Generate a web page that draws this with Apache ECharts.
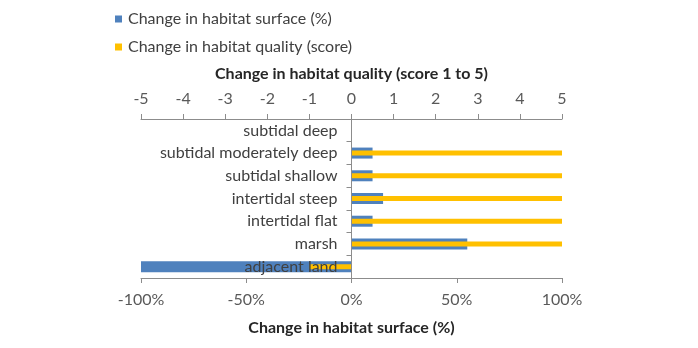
<!DOCTYPE html>
<html>
<head>
<meta charset="utf-8">
<script src="https://cdn.jsdelivr.net/npm/echarts@6/dist/echarts.min.js"></script>
<style>
  html, body { margin: 0; padding: 0; background: #fff; }
  #chart { width: 698px; height: 348px; }
</style>
</head>
<body>
<div id="chart"></div>
<script>
// Habitat types, bottom to top
const habitats = ['adjacent land', 'marsh', 'intertidal flat', 'intertidal steep',
                  'subtidal shallow', 'subtidal moderately deep', 'subtidal deep'];
// Change in habitat surface (%)
const surfaceChange = [-100, 55, 10, 15, 10, 10, 0];
// Change in habitat quality (score)
const qualityChange = [-1, 5, 5, 5, 5, 5, 0];

const surfaceName = 'Change in habitat surface (%)';
const qualityName = 'Change in habitat quality (score)';

const FONT = 'Lato';
const FS = 16;
const axisGrey = '#8c8c8c';
const labelGrey = '#595959';

// plot area geometry
const GRID_LEFT = 141, GRID_RIGHT = 136;
const PLOT_W = 698 - GRID_LEFT - GRID_RIGHT;

const chart = echarts.init(document.getElementById('chart'));
chart.setOption({
  animation: false,
  textStyle: { fontFamily: FONT },
  legend: {
    orient: 'vertical',
    left: 110,
    top: 6,
    itemWidth: 7,
    itemHeight: 7,
    itemGap: 12,
    icon: 'rect',
    textStyle: { fontFamily: FONT, fontSize: FS, color: '#404040', padding: [0, 0, 0, 1] },
    data: [surfaceName, qualityName]
  },
  grid: { left: GRID_LEFT, right: GRID_RIGHT, top: 119, bottom: 70, outerBoundsMode: 'none', containLabel: false },
  xAxis: [
    {
      type: 'value',
      position: 'bottom',
      min: -100, max: 100, interval: 50,
      name: 'Change in habitat surface (%)',
      nameLocation: 'middle',
      nameGap: 42,
      nameTextStyle: { fontFamily: FONT, fontSize: FS, fontWeight: 'bold', color: '#262626' },
      axisLine: { show: true, lineStyle: { color: axisGrey } },
      axisTick: { show: true, length: 5, lineStyle: { color: axisGrey } },
      axisLabel: { formatter: '{value}%', fontSize: FS, color: labelGrey, margin: 14 },
      splitLine: { show: false }
    },
    {
      type: 'value',
      position: 'top',
      min: -5, max: 5, interval: 1,
      name: 'Change in habitat quality (score 1 to 5)',
      nameLocation: 'middle',
      nameGap: 37,
      nameTextStyle: { fontFamily: FONT, fontSize: FS, fontWeight: 'bold', color: '#262626' },
      axisLine: { show: true, lineStyle: { color: axisGrey } },
      axisTick: { show: true, length: 5, lineStyle: { color: axisGrey } },
      axisLabel: { fontSize: FS, color: labelGrey, margin: 12 },
      splitLine: { show: false }
    }
  ],
  yAxis: [
    {
      type: 'category',
      data: habitats,
      // category axis sits on the zero line of the value axes
      offset: -PLOT_W / 2,
      axisLine: { show: true, onZero: false, lineStyle: { color: axisGrey } },
      axisTick: { show: true, length: 5, lineStyle: { color: axisGrey } },
      axisLabel: { fontSize: FS, color: '#404040', margin: 14 },
      z: 10
    },
    {
      type: 'category',
      data: habitats,
      show: false
    }
  ],
  series: [
    {
      name: surfaceName,
      type: 'bar',
      xAxisIndex: 0,
      yAxisIndex: 0,
      data: surfaceChange,
      barWidth: 11,
      itemStyle: { color: '#4f81bd' },
      z: 2
    },
    {
      name: qualityName,
      type: 'bar',
      xAxisIndex: 1,
      yAxisIndex: 1,
      data: qualityChange,
      barWidth: 5,
      itemStyle: { color: '#ffc000' },
      z: 3
    }
  ]
});
</script>
</body>
</html>
